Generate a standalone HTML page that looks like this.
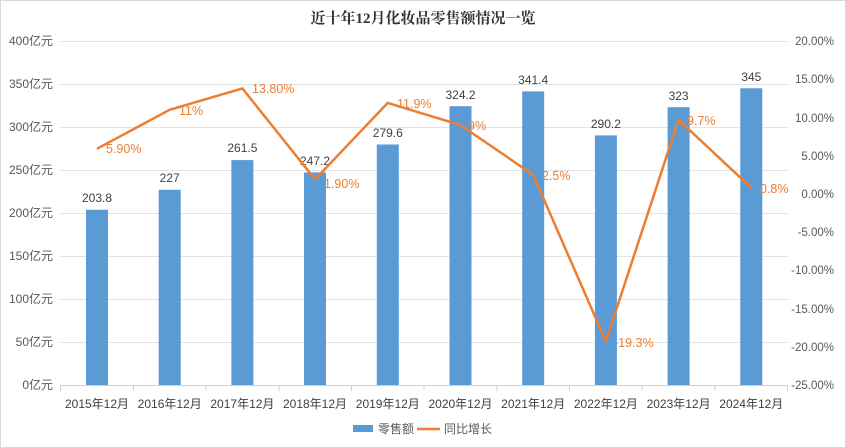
<!DOCTYPE html>
<html><head><meta charset="utf-8"><style>body{margin:0;background:#fff}svg{display:block}</style></head><body>
<svg width="846" height="448" xmlns="http://www.w3.org/2000/svg" font-family="Liberation Sans, Noto Sans CJK SC, sans-serif">
<rect x="0.5" y="0.5" width="845" height="447" fill="#fff" stroke="#d9d9d9"/>
<text x="423" y="23" text-anchor="middle" font-size="15" font-weight="bold" fill="#333" font-family="Liberation Serif, Noto Serif CJK SC, serif">近十年12月化妆品零售额情况一览</text>
<g stroke="#e3e3e3" stroke-width="1">
<line x1="60" x2="788" y1="41.5" y2="41.5"/><line x1="60" x2="788" y1="84.5" y2="84.5"/><line x1="60" x2="788" y1="127.5" y2="127.5"/><line x1="60" x2="788" y1="170.5" y2="170.5"/><line x1="60" x2="788" y1="213.5" y2="213.5"/><line x1="60" x2="788" y1="256.5" y2="256.5"/><line x1="60" x2="788" y1="299.5" y2="299.5"/><line x1="60" x2="788" y1="342.5" y2="342.5"/>
</g>
<line x1="60" x2="788" y1="385.5" y2="385.5" stroke="#d0d0d0"/>
<g stroke="#d0d0d0"><line x1="60.5" x2="60.5" y1="385" y2="391"/><line x1="133.5" x2="133.5" y1="385" y2="391"/><line x1="206" x2="206" y1="385" y2="391"/><line x1="279" x2="279" y1="385" y2="391"/><line x1="351.5" x2="351.5" y1="385" y2="391"/><line x1="424" x2="424" y1="385" y2="391"/><line x1="497" x2="497" y1="385" y2="391"/><line x1="569.5" x2="569.5" y1="385" y2="391"/><line x1="642" x2="642" y1="385" y2="391"/><line x1="715" x2="715" y1="385" y2="391"/><line x1="787.5" x2="787.5" y1="385" y2="391"/></g>
<g font-size="12" fill="#595959" text-anchor="end">
<text x="53" y="45">400亿元</text><text x="53" y="88">350亿元</text><text x="53" y="131">300亿元</text><text x="53" y="174">250亿元</text><text x="53" y="217">200亿元</text><text x="53" y="260">150亿元</text><text x="53" y="303">100亿元</text><text x="53" y="346">50亿元</text><text x="53" y="389">0亿元</text>
</g>
<g font-size="11.5" fill="#595959" text-anchor="end">
<text x="834" y="45">20.00%</text><text x="834" y="83">15.00%</text><text x="834" y="122">10.00%</text><text x="834" y="160">5.00%</text><text x="834" y="198">0.00%</text><text x="834" y="236">-5.00%</text><text x="834" y="274">-10.00%</text><text x="834" y="313">-15.00%</text><text x="834" y="351">-20.00%</text><text x="834" y="389">-25.00%</text>
</g>
<g fill="#5b9bd5">
<rect x="86" y="209.7" width="22" height="175.3"/><rect x="158.7" y="189.8" width="22" height="195.2"/><rect x="231.4" y="160.1" width="22" height="224.9"/><rect x="304" y="172.4" width="22" height="212.6"/><rect x="376.8" y="144.5" width="22" height="240.5"/><rect x="449.5" y="106.2" width="22" height="278.8"/><rect x="522.2" y="91.4" width="22" height="293.6"/><rect x="594.9" y="135.4" width="22" height="249.6"/><rect x="667.6" y="107.2" width="22" height="277.8"/><rect x="740.3" y="88.3" width="22" height="296.7"/>
</g>
<g font-size="12" fill="#404040" text-anchor="middle">
<text x="97" y="202">203.8</text><text x="169.7" y="182">227</text><text x="242.4" y="152">261.5</text><text x="315" y="165">247.2</text><text x="387.8" y="137">279.6</text><text x="460.5" y="99">324.2</text><text x="533.2" y="84">341.4</text><text x="605.9" y="128">290.2</text><text x="678.6" y="100">323</text><text x="751.3" y="81">345</text>
</g>
<polyline fill="none" stroke="#ed7d31" stroke-width="2.5" stroke-linejoin="round" points="96.95,148.8 169.65,109.8 242.35,88.4 315.05,179.4 387.75,102.9 460.45,125.1 533.15,174.8 605.85,341.4 678.55,119.8 751.25,187.8"/>
<g font-size="12.5" fill="#ed7d31">
<text x="106" y="153">5.90%</text><text x="179" y="115">11%</text><text x="252" y="93">13.80%</text><text x="324" y="188">1.90%</text><text x="397" y="108">11.9%</text><text x="468" y="130">9%</text><text x="542" y="180">2.5%</text><text x="614" y="347">-19.3%</text><text x="687" y="125">9.7%</text><text x="760" y="193">0.8%</text>
</g>
<g font-size="12" fill="#404040" text-anchor="middle">
<text x="97" y="408">2015年12月</text><text x="169.7" y="408">2016年12月</text><text x="242.4" y="408">2017年12月</text><text x="315" y="408">2018年12月</text><text x="387.8" y="408">2019年12月</text><text x="460.5" y="408">2020年12月</text><text x="533.2" y="408">2021年12月</text><text x="605.9" y="408">2022年12月</text><text x="678.6" y="408">2023年12月</text><text x="751.3" y="408">2024年12月</text>
</g>
<rect x="353" y="425" width="20" height="7" fill="#5b9bd5"/>
<text x="378" y="433" font-size="12" fill="#595959">零售额</text>
<line x1="417" x2="440" y1="429" y2="429" stroke="#ed7d31" stroke-width="2.5"/>
<text x="444" y="433" font-size="12" fill="#595959">同比增长</text>
</svg>
</body></html>
